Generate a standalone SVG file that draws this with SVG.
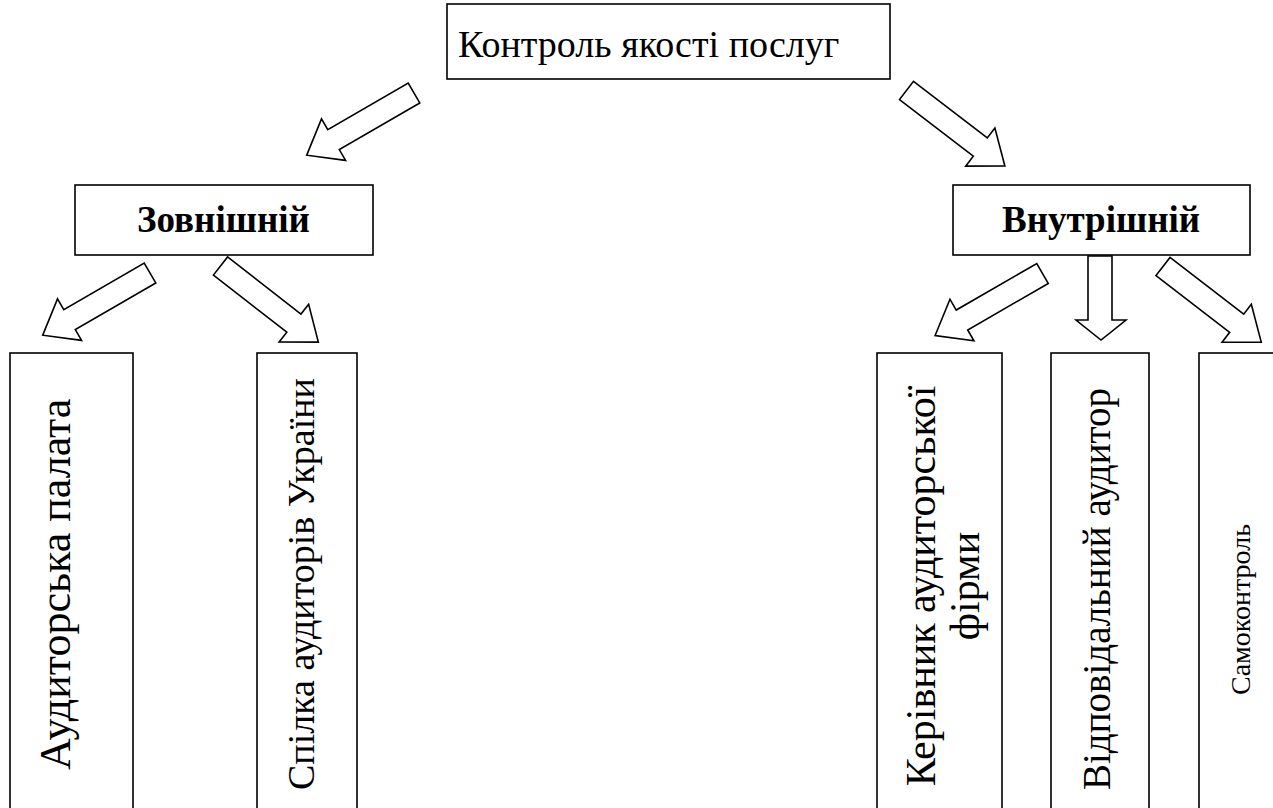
<svg xmlns="http://www.w3.org/2000/svg" width="1273" height="808" viewBox="0 0 1273 808">
  <style>
    .box { fill: #fff; stroke: #000; stroke-width: 1.6; }
    .arrow { fill: #fff; stroke: #000; stroke-width: 1.6; stroke-linejoin: miter; }
    .lbl { font-family: "Liberation Serif", "Times New Roman", serif; fill: #000; }
    .title { font-size: 38px; }
    .head { font-size: 37px; font-weight: bold; }
    .small { font-size: 28px; }
  </style>
  <defs>
    <!-- block arrow pointing along +x, tail centred on the origin -->
    <path id="blk" d="M0,-11.5 H93 V-24 L124,0 L93,24 V11.5 H0 Z"/>
  </defs>
  <rect width="1273" height="808" fill="#fff"/>

  <g id="connectors">
    <use href="#blk" class="arrow" transform="translate(414,93) rotate(149.9)"/>
    <use href="#blk" class="arrow" transform="translate(906.5,90.5) rotate(37.5)"/>
    <use href="#blk" class="arrow" transform="translate(150,273) rotate(149.9)"/>
    <use href="#blk" class="arrow" transform="translate(220.5,266) rotate(37.9)"/>
    <use href="#blk" class="arrow" transform="translate(1042.5,273.5) rotate(150)"/>
    <path class="arrow" d="M1088,256 V320 H1076 L1101,340 L1126,320 H1112 V256 Z"/>
    <use href="#blk" class="arrow" transform="translate(1163,266.5) rotate(37.6)"/>
  </g>

  <g id="quality-control">
    <rect class="box" x="447" y="4" width="443" height="75"/>
    <text class="lbl title" x="458" y="57">Контроль якості послуг</text>
  </g>

  <g id="external">
    <rect class="box" x="75" y="185" width="298" height="70"/>
    <text class="lbl head" x="137" y="232">Зовнішній</text>
  </g>

  <g id="internal">
    <rect class="box" x="953" y="185" width="297" height="70"/>
    <text class="lbl head" x="1002" y="232">Внутрішній</text>
  </g>

  <g id="audit-chamber">
    <rect class="box" x="10" y="353" width="123" height="470"/>
    <text class="lbl" font-size="44" transform="translate(70,770) rotate(-90)">Аудиторська палата</text>
  </g>

  <g id="auditors-union">
    <rect class="box" x="257" y="353" width="100" height="470"/>
    <text class="lbl" font-size="38" transform="translate(314,790) rotate(-90)">Спілка аудиторів України</text>
  </g>

  <g id="firm-head">
    <rect class="box" x="877" y="353" width="125" height="470"/>
    <text class="lbl" font-size="42" text-anchor="middle" transform="translate(935,586) rotate(-90)">Керівник аудиторської<tspan x="0" dy="44">фірми</tspan></text>
  </g>

  <g id="responsible-auditor">
    <rect class="box" x="1051" y="353" width="98" height="470"/>
    <text class="lbl" font-size="39" transform="translate(1110,790) rotate(-90)">Відповідальний аудитор</text>
  </g>

  <g id="self-control">
    <rect class="box" x="1199" y="353" width="100" height="470"/>
    <text class="lbl small" transform="translate(1250,695) rotate(-90)">Самоконтроль</text>
  </g>
</svg>
